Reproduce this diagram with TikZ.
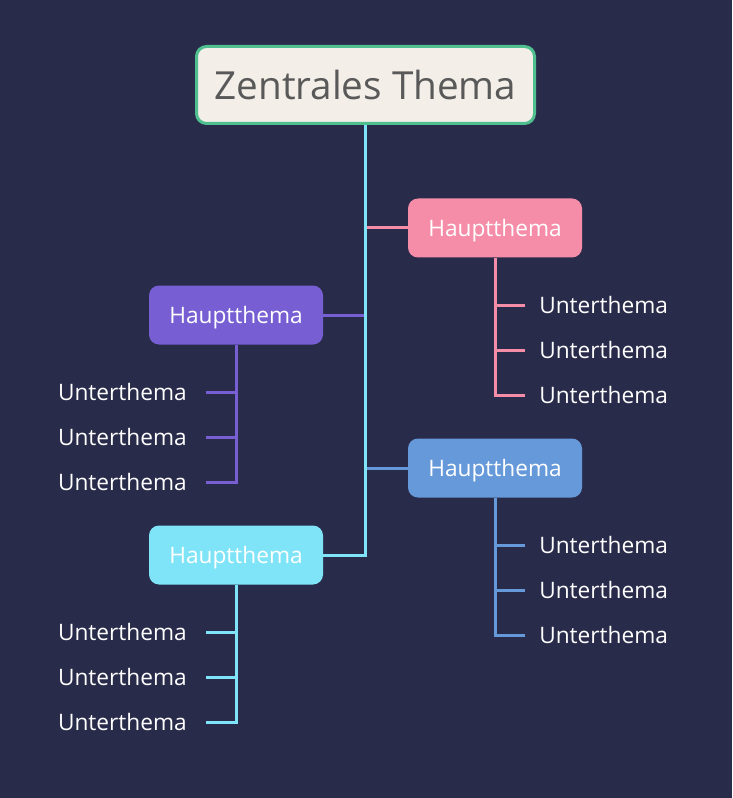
\documentclass[tikz,border=0pt]{standalone}
\usepackage{fontspec}
\setmainfont{Open Sans}
\definecolor{bgnavy}{HTML}{292B4A}
\definecolor{creamz}{HTML}{F3EFE8}
\definecolor{greenz}{HTML}{4FBF8F}
\definecolor{greyz}{HTML}{595959}
\definecolor{pinkh}{HTML}{F58DA8}
\definecolor{purpleh}{HTML}{775FD3}
\definecolor{blueh}{HTML}{6699DA}
\definecolor{cyanh}{HTML}{7FE4F7}
\begin{document}
\begin{tikzpicture}[x=0.75pt,y=-0.75pt,
		centralbox/.style={draw=greenz, line width=2.25pt, fill=creamz, rounded corners=7.5pt, minimum width=253.5pt, minimum height=57.75pt, text=greyz, font=\fontsize{29}{33}\selectfont},
		hauptbox/.style={rounded corners=7.5pt, minimum width=130.5pt, minimum height=44.25pt, text depth=0pt, text=white, font=\fontsize{17}{20}\selectfont},
		subtext/.style={text=white, inner xsep=0pt, font=\fontsize{17}{20}\selectfont},
		ast/.style={line width=2.25pt}]
	\fill[bgnavy] (0,0) rectangle (732,798);
	% main topics
	\node[centralbox] (zt) at (365.5,85) {Zentrales Thema};
	\node[hauptbox, fill=pinkh] (ph) at (495,228) {Hauptthema};
	\node[hauptbox, fill=purpleh] (uh) at (236,315) {Hauptthema};
	\node[hauptbox, fill=blueh] (bh) at (495,468) {Hauptthema};
	\node[hauptbox, fill=cyanh] (ch) at (236,555) {Hauptthema};
	% branches to the trunk
	\draw[ast, pinkh] (zt.south |- ph.west) -- (ph.west);
	\draw[ast, purpleh] (zt.south |- uh.east) -- (uh.east);
	\draw[ast, blueh] (zt.south |- bh.west) -- (bh.west);
	\draw[ast, cyanh] (zt.south) |- (ch.east);
	% subtopics
	\foreach \i/\y in {1/305,2/350,3/395} {
		\coordinate (pc\i) at (525,\y);
		\node[subtext, anchor=west] (p\i) at ([xshift=10.5pt]pc\i) {Unterthema};
		\draw[ast, pinkh] (ph.south) |- (pc\i);
	}
	\foreach \i/\y in {1/392,2/437,3/482} {
		\coordinate (uc\i) at (206,\y);
		\node[subtext, anchor=east] (u\i) at ([xshift=-14.25pt]uc\i) {Unterthema};
		\draw[ast, purpleh] (uh.south) |- (uc\i);
	}
	\foreach \i/\y in {1/545,2/590,3/635} {
		\coordinate (bc\i) at (525,\y);
		\node[subtext, anchor=west] (b\i) at ([xshift=10.5pt]bc\i) {Unterthema};
		\draw[ast, blueh] (bh.south) |- (bc\i);
	}
	\foreach \i/\y in {1/632,2/677,3/722} {
		\coordinate (cc\i) at (206,\y);
		\node[subtext, anchor=east] (c\i) at ([xshift=-14.25pt]cc\i) {Unterthema};
		\draw[ast, cyanh] (ch.south) |- (cc\i);
	}
\end{tikzpicture}
\end{document}
